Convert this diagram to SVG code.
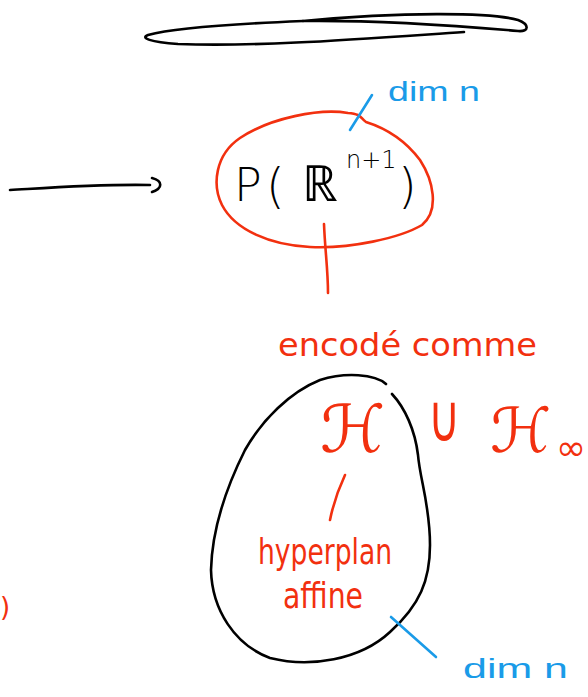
<svg xmlns="http://www.w3.org/2000/svg" width="588" height="697" viewBox="0 0 588 697">
<style>
.ink{fill:none;stroke-linecap:round;stroke-linejoin:round}
.k{stroke:#000;stroke-width:2.6}
.r{stroke:#f2300f;stroke-width:2.6}
.b{stroke:#1a9be8;stroke-width:2.6}
.tr{fill:#f2300f;font-family:"DejaVu Sans","Liberation Sans",sans-serif}
.tb{fill:#1a9be8;font-family:"Liberation Sans","DejaVu Sans",sans-serif}
.tk{fill:#000;font-family:"DejaVu Sans","Liberation Sans",sans-serif;font-weight:300}
</style>
<rect width="588" height="697" fill="#fff"/>
<g id="lens">
<path class="ink k" d="M303,21 C230,24 170,29 148,35 C140,38 150,42 178,44 C260,47 360,39 464,32"/>
<path class="ink k" d="M303,21 C380,20 460,26 518,31 C530,32 529,24 518,20 C490,12 400,12 303,21"/>
</g>
<g id="connectors">
<path class="ink k" d="M10,190 C60,187 100,184 150,185"/>
<path class="ink k" d="M152,178 C163,181 163,188 152,192"/>
<path class="ink r" d="M324,224 C325,250 328,270 328,293"/>
<path class="ink r" d="M345,475 C338,490 333,505 330,520"/>
</g>
<g id="projective">
<path class="ink r" d="M348,113 C320,108 270,118 240,138 C215,155 212,185 222,205 C235,230 270,245 310,247 C350,249 400,238 422,225 C440,210 433,180 420,160 C405,140 385,128 366,122 C360,118 362,114 348,113 Z"/>
<text class="tk" x="234" y="201" font-size="46">P</text>
<text class="tk" x="266" y="203" font-size="48">(</text>
<text class="tk" x="302" y="201" font-size="50">ℝ</text>
<text class="tk" x="346" y="168" font-size="24">n+1</text>
<text class="tk" x="398" y="203" font-size="48">)</text>
</g>
<g id="dim1">
<path class="ink b" d="M372,95 L350,130"/>
<text class="tb" x="388" y="101" font-size="28" textLength="92" lengthAdjust="spacingAndGlyphs">dim n</text>
</g>
<g id="encode">
<text class="tr" x="278" y="356" font-size="32" textLength="259" lengthAdjust="spacingAndGlyphs">encodé comme</text>
</g>
<g id="affine-blob">
<path class="ink k" d="M386,384 C375,374 345,372 320,380 C290,392 262,420 245,450 C225,490 212,530 211,570 C212,610 235,645 270,658 C310,668 360,660 390,632 C420,605 430,580 430,545 C430,505 420,480 418,455 C415,430 405,408 392,394"/>
</g>
<g id="union">
<text class="tr" x="320" y="452" font-size="66">ℋ</text>
<text class="tr" x="0" y="0" font-size="44" transform="translate(428,441) scale(1,1.5)">∪</text>
<text class="tr" x="490" y="452" font-size="62">ℋ</text>
<text class="tr" x="556" y="460" font-size="36">∞</text>
</g>
<g id="hyperplan">
<text class="tr" x="258" y="564" font-size="36" textLength="134" lengthAdjust="spacingAndGlyphs">hyperplan</text>
<text class="tr" x="283" y="608" font-size="36" textLength="80" lengthAdjust="spacingAndGlyphs">affine</text>
</g>
<g id="dim2">
<path class="ink b" d="M391,617 L436,657"/>
<text class="tb" x="463" y="678" font-size="28" textLength="105" lengthAdjust="spacingAndGlyphs">dim n</text>
</g>
<g id="fragment">
<text class="tr" x="0" y="616" font-size="26">)</text>
</g>
</svg>
